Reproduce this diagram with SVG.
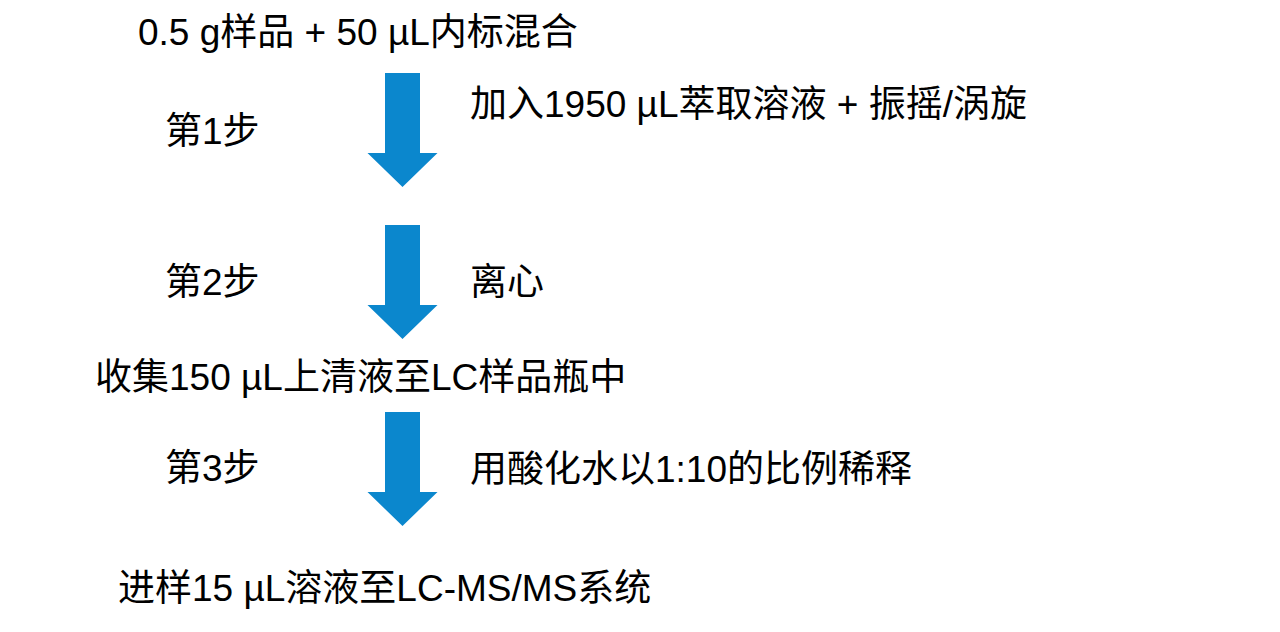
<svg xmlns="http://www.w3.org/2000/svg" width="1280" height="632" viewBox="0 0 1280 632">
<style>
text{font-family:"Liberation Sans",Arial,"Noto Sans CJK SC",sans-serif;font-size:37px;fill:#000}
.arr{fill:#0b87cd}
</style>
<defs>
<path id="arrow" d="M-17.5 0H17.5V80H35L0 114L-35 80H-17.5Z"/>
</defs>
<rect width="1280" height="632" fill="#fff"/>
<g id="connectors">
<use href="#arrow" class="arr" x="402.5" y="73"/>
<use href="#arrow" class="arr" x="402.5" y="225"/>
<use href="#arrow" class="arr" x="402.5" y="412"/>
</g>
<g id="start"><text x="138" y="45">0.5 g样品 + 50 µL内标混合</text></g>
<g id="step1"><text x="165" y="144">第1步</text></g>
<g id="step1-desc"><text x="470" y="117">加入1950 µL萃取溶液 + 振摇/涡旋</text></g>
<g id="step2"><text x="165" y="295">第2步</text></g>
<g id="step2-desc"><text x="470" y="295">离心</text></g>
<g id="collect"><text x="95" y="390">收集150 µL上清液至LC样品瓶中</text></g>
<g id="step3"><text x="165" y="481">第3步</text></g>
<g id="step3-desc"><text x="470" y="482">用酸化水以1:10的比例稀释</text></g>
<g id="inject"><text x="118" y="601">进样15 µL溶液至LC-MS/MS系统</text></g>
</svg>
